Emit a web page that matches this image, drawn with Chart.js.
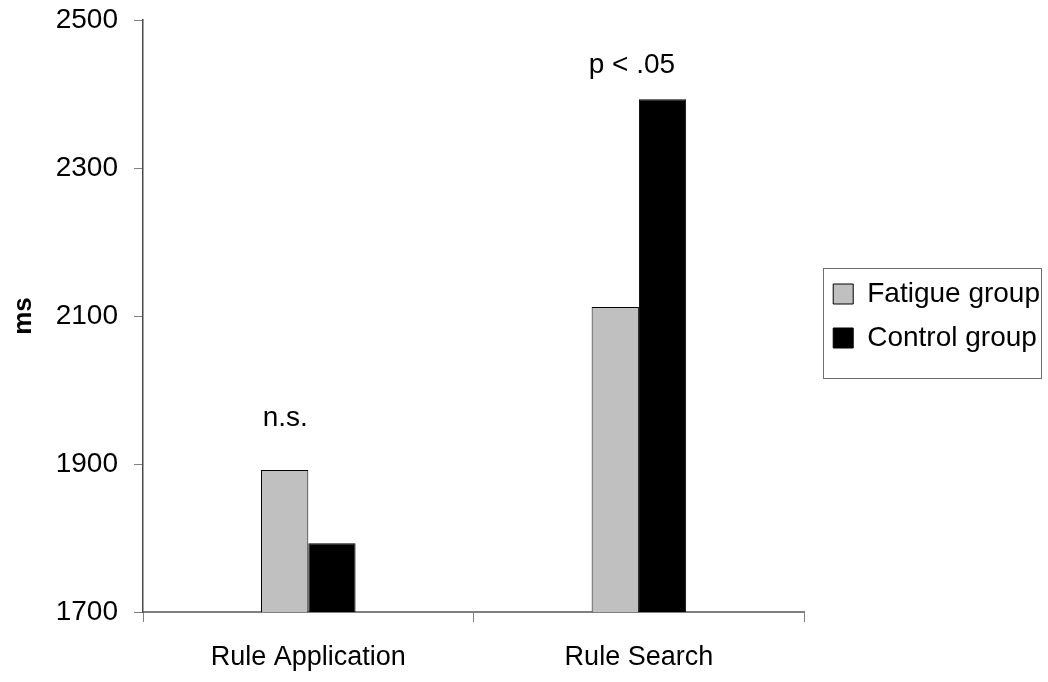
<!DOCTYPE html>
<html>
<head>
<meta charset="utf-8">
<script src="https://cdn.jsdelivr.net/npm/chart.js@4.4.1/dist/chart.umd.min.js"></script>
<style>
  html, body { margin: 0; padding: 0; background: #fff; }
  #wrap { width: 1048px; height: 682px; }
</style>
</head>
<body>
<div id="wrap"><canvas id="chart" width="1048" height="682"></canvas></div>
<script>
// Mean response times (ms)
const tasks = ['Rule Application', 'Rule Search'];
const fatigueGroup = [1892, 2112];
const controlGroup = [1793, 2393];
const significance = ['n.s.', 'p < .05'];
const yTicks = [1700, 1900, 2100, 2300, 2500];

const FONT = "'Liberation Sans', Arial, sans-serif";

// Significance notes above each pair of bars
const notesPlugin = {
  id: 'notes',
  afterDatasetsDraw(chart, args, opts) {
    const { ctx } = chart;
    const y = chart.scales.y;
    const x = chart.scales.x;
    ctx.save();
    ctx.font = `28px ${FONT}`;
    ctx.fillStyle = '#000';
    ctx.textAlign = 'center';
    ctx.textBaseline = 'alphabetic';
    significance.forEach((txt, i) => {
      const top = Math.max(fatigueGroup[i], controlGroup[i]);
      const cx = x.getPixelForValue(i) + opts.shift[i];
      ctx.fillText(txt, cx, y.getPixelForValue(top) - opts.lift[i]);
    });
    ctx.restore();
  }
};

// Move the legend next to the plot (centred on the plot area) and frame it
const legendFrame = {
  id: 'legendFrame',
  afterLayout(chart, args, opts) {
    const lg = chart.legend;
    const area = chart.chartArea;
    const dy = (area.top + area.bottom) / 2 - (lg.top + lg.bottom) / 2;
    const dx = area.right + opts.gap - (lg.left + lg.options.labels.padding);
    lg.top += dy; lg.bottom += dy;
    lg.left += dx; lg.right += dx;
  },
  afterDraw(chart, args, opts) {
    const boxes = chart.legend && chart.legend.legendHitBoxes;
    if (!boxes || !boxes.length) return;
    const first = boxes[0];
    const last = boxes[boxes.length - 1];
    const left = first.left - 10;
    const right = chart.width - 7;
    const top = first.top + first.height / 2 - 26;
    const bottom = last.top + last.height / 2 + 40;
    const ctx = chart.ctx;
    ctx.save();
    ctx.strokeStyle = '#6e6e6e';
    ctx.lineWidth = 1;
    ctx.strokeRect(Math.round(left) + 0.5, Math.round(top) + 0.5, Math.round(right - left), Math.round(bottom - top));
    ctx.restore();
  }
};

new Chart(document.getElementById('chart'), {
  type: 'bar',
  data: {
    labels: tasks,
    datasets: [
      {
        label: 'Fatigue group',
        data: fatigueGroup,
        backgroundColor: '#c0c0c0',
        borderColor: '#000',
        borderWidth: 1,
        borderSkipped: 'bottom'
      },
      {
        label: 'Control group',
        data: controlGroup,
        backgroundColor: '#000',
        borderColor: '#000',
        borderWidth: 1,
        borderSkipped: 'bottom'
      }
    ]
  },
  options: {
    responsive: false,
    animation: false,
    layout: { padding: { left: 0, top: 0, right: 11, bottom: 0 } },
    datasets: {
      bar: { categoryPercentage: 0.286, barPercentage: 1 }
    },
    scales: {
      x: {
        afterFit(scale) { scale.height = 70; },
        grid: {
          drawOnChartArea: false,
          offset: true,
          tickLength: 10,
          color: '#808080'
        },
        border: { color: '#808080', width: 2 },
        ticks: {
          color: '#000',
          padding: 19,
          font: { family: FONT, size: 27 }
        }
      },
      y: {
        min: 1700,
        max: 2500,
        afterBuildTicks(axis) {
          axis.ticks = yTicks.map(v => ({ value: v }));
        },
        afterFit(scale) {
          scale.width = 143;
          scale.paddingTop = 20;
          scale.paddingBottom = 0;
        },
        grid: {
          drawOnChartArea: false,
          tickLength: 9,
          color: '#808080'
        },
        border: { color: '#4a4a4a', width: 1.5 },
        ticks: {
          color: '#000',
          padding: 16,
          font: { family: FONT, size: 28 },
          callback: v => String(v)
        },
        title: {
          display: true,
          text: 'ms',
          color: '#000',
          padding: { top: 8, bottom: 0 },
          font: { family: FONT, size: 26, weight: 'bold' }
        }
      }
    },
    plugins: {
      legend: {
        position: 'right',
        labels: {
          color: '#000',
          boxWidth: 20,
          boxHeight: 20,
          padding: 16,
          font: { family: FONT, size: 28 }
        }
      },
      tooltip: { enabled: false },
      notes: { shift: [-23, -7], lift: [44, 26] },
      legendFrame: { gap: 29 }
    }
  },
  plugins: [notesPlugin, legendFrame]
});
</script>
</body>
</html>
